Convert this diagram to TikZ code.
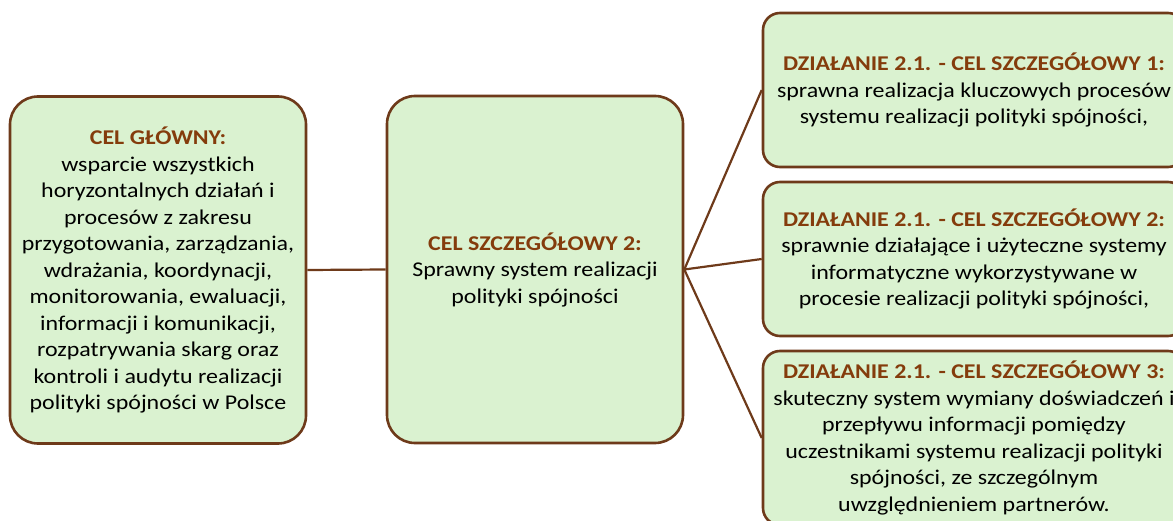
\documentclass[tikz,border=0pt]{standalone}
\usepackage{fontspec}
\setmainfont{Carlito}[FakeStretch=1.14]
\definecolor{boxfill}{HTML}{DAF2D0}
\definecolor{boxdraw}{HTML}{6E3A1A}
\definecolor{titlecol}{HTML}{843C0C}
\tikzset{
  goalbox/.style={draw=boxdraw, fill=boxfill, line width=2.6pt, inner sep=0pt,
    align=center, font=\fontsize{21}{26.5}\selectfont, text=black},
  bigbox/.style={goalbox, rounded corners=28pt, minimum width=296pt, minimum height=347pt},
  smallbox/.style={goalbox, rounded corners=17pt, minimum width=422pt},
  link/.style={draw=boxdraw, line width=2.2pt},
}
\newcommand{\ttl}[1]{{\bfseries\color{titlecol}#1}}
\begin{document}
\begin{tikzpicture}[x=1pt,y=-1pt]
\useasboundingbox (0,0) rectangle (1173,521);
\clip (0,0) rectangle (1173,521);
\node[bigbox] (main) at (158,270) {\ttl{CEL GŁÓWNY:}\\wsparcie wszystkich\\horyzontalnych działań i\\procesów z zakresu\\przygotowania, zarządzania,\\wdrażania, koordynacji,\\monitorowania, ewaluacji,\\informacji i komunikacji,\\rozpatrywania skarg oraz\\kontroli i audytu realizacji\\polityki spójności w Polsce};
\node[bigbox] (cs2) at (535,269.5) {\ttl{CEL SZCZEGÓŁOWY 2:}\\Sprawny system realizacji\\polityki spójności};
\node[smallbox, minimum height=154pt] (d1) at (974,90) {\ttl{DZIAŁANIE 2.1. - CEL SZCZEGÓŁOWY 1:}\\sprawna realizacja kluczowych procesów\\systemu realizacji polityki spójności,};
\node[smallbox, minimum height=154pt] (d2) at (974,259) {\ttl{DZIAŁANIE 2.1. - CEL SZCZEGÓŁOWY 2:}\\sprawnie działające i użyteczne systemy\\informatyczne wykorzystywane w\\procesie realizacji polityki spójności,};
\node[smallbox, minimum height=174pt] (d3) at (974,438) {\ttl{DZIAŁANIE 2.1. - CEL SZCZEGÓŁOWY 3:}\\skuteczny system wymiany doświadczeń i\\przepływu informacji pomiędzy\\uczestnikami systemu realizacji polityki\\spójności, ze szczególnym\\uwzględnieniem partnerów.};
\draw[link] (main.east) -- (cs2.west);
\draw[link] (cs2.east) -- (d1.west);
\draw[link] (cs2.east) -- (d2.west);
\draw[link] (cs2.east) -- (d3.west);
\end{tikzpicture}
\end{document}
